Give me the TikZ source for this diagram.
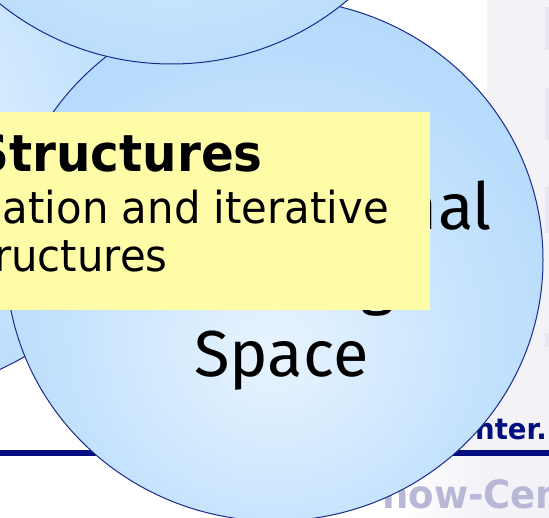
\documentclass[tikz,border=0pt]{standalone}
\usepackage{fontspec}
\usetikzlibrary{shapes.geometric,positioning}
\newfontfamily\notefont[FakeStretch=0.95]{DejaVu Sans}
\newfontfamily\bubfont{Fira Sans}
\definecolor{bubin}{RGB}{232,244,255}
\definecolor{bubmid}{RGB}{192,224,253}
\definecolor{bubrim}{RGB}{168,211,251}
\definecolor{bubout}{RGB}{162,207,250}
\definecolor{bubedge}{RGB}{26,42,140}
\definecolor{notefill}{RGB}{255,252,168}
\definecolor{navyline}{RGB}{0,14,128}
\definecolor{logogray}{RGB}{184,184,214}
\definecolor{bandgray}{RGB}{242,242,247}
\definecolor{tabgray}{RGB}{231,231,239}
\pgfdeclareradialshading{bubshade}{\pgfpoint{0bp}{0bp}}{color(0bp)=(bubin); color(22bp)=(bubmid); color(40bp)=(bubrim); color(50bp)=(bubout); color(90bp)=(bubout)}
\pgfdeclareradialshading{bubshadelow}{\pgfpoint{0bp}{-9bp}}{color(0bp)=(bubin); color(22bp)=(bubmid); color(40bp)=(bubrim); color(50bp)=(bubout); color(90bp)=(bubout)}

\begin{document}
\begin{tikzpicture}[x=1pt,y=-1pt]
  \tikzstyle{bubble}=[ellipse, draw=bubedge, line width=1pt, minimum width=537pt, minimum height=522pt, inner sep=0pt, shading=bubshade]
  \tikzstyle{bubtext}=[font=\bubfont\fontsize{65}{73}\selectfont, inner sep=0pt]
  \tikzstyle{notetext}=[font=\notefont\fontsize{44}{48}\selectfont, inner sep=0pt]
  \tikzstyle{notehead}=[font=\notefont\bfseries\fontsize{51}{55}\selectfont, inner sep=0pt]
  \tikzstyle{urltext}=[font=\notefont\bfseries\fontsize{29}{31}\selectfont, text=navyline, inner sep=0pt]
  \tikzstyle{logotext}=[font=\notefont\bfseries\fontsize{39}{41}\selectfont, text=logogray, inner sep=0pt]

  % background and side band
  \fill[white] (0,0) rectangle (549,518);
  \useasboundingbox (0,0) rectangle (549,518);
  \fill[bandgray] (487,0) rectangle (549,518);
  \shade[left color=white, right color=bandgray] (400,440) rectangle (487,518);
  \foreach \ya/\yb in {7/50,88/140,187/233,333/347}
    \fill[tabgray] (545,\ya) rectangle (549,\yb);

  % footer line and logo text
  \fill[navyline] (0,450) rectangle (549,456.5);
  \node[urltext, anchor=base east] (weburl) at (547,439.3) {nter.};
  \node[logotext, anchor=base west] (logo) at (382,508) {now-Cen};

  % three bubbles
  \node[bubble] (leftbub) at (-114,133) {};
  \node[bubble, shading=bubshadelow] (bigbub) at (274.5,260) {};
  \node[bubble] (topbub) at (171.5,-197) {};

  % text of the big bubble
  \node[bubtext, anchor=base east] (bubline1) at (492,229.5) {nal};
  \node[bubtext, anchor=base east] (bubline2) at (394,303) {g};
  \node[bubtext, anchor=base] (bubline3) at (281.5,377) {Space};

  % yellow note
  \node[fill=notefill, minimum width=480pt, minimum height=198pt, inner sep=0pt, anchor=north east] (note) at (430.5,112) {};
  \node[notehead, anchor=base east] (notetitle) at (263,171.7) {Structures};
  \node[notetext, anchor=base east] (noteline1) at (389,223.3) {ation and iterative};
  \node[notetext, anchor=base west] (noteline2) at (-6,271.7) {ructures};
\end{tikzpicture}
\end{document}
